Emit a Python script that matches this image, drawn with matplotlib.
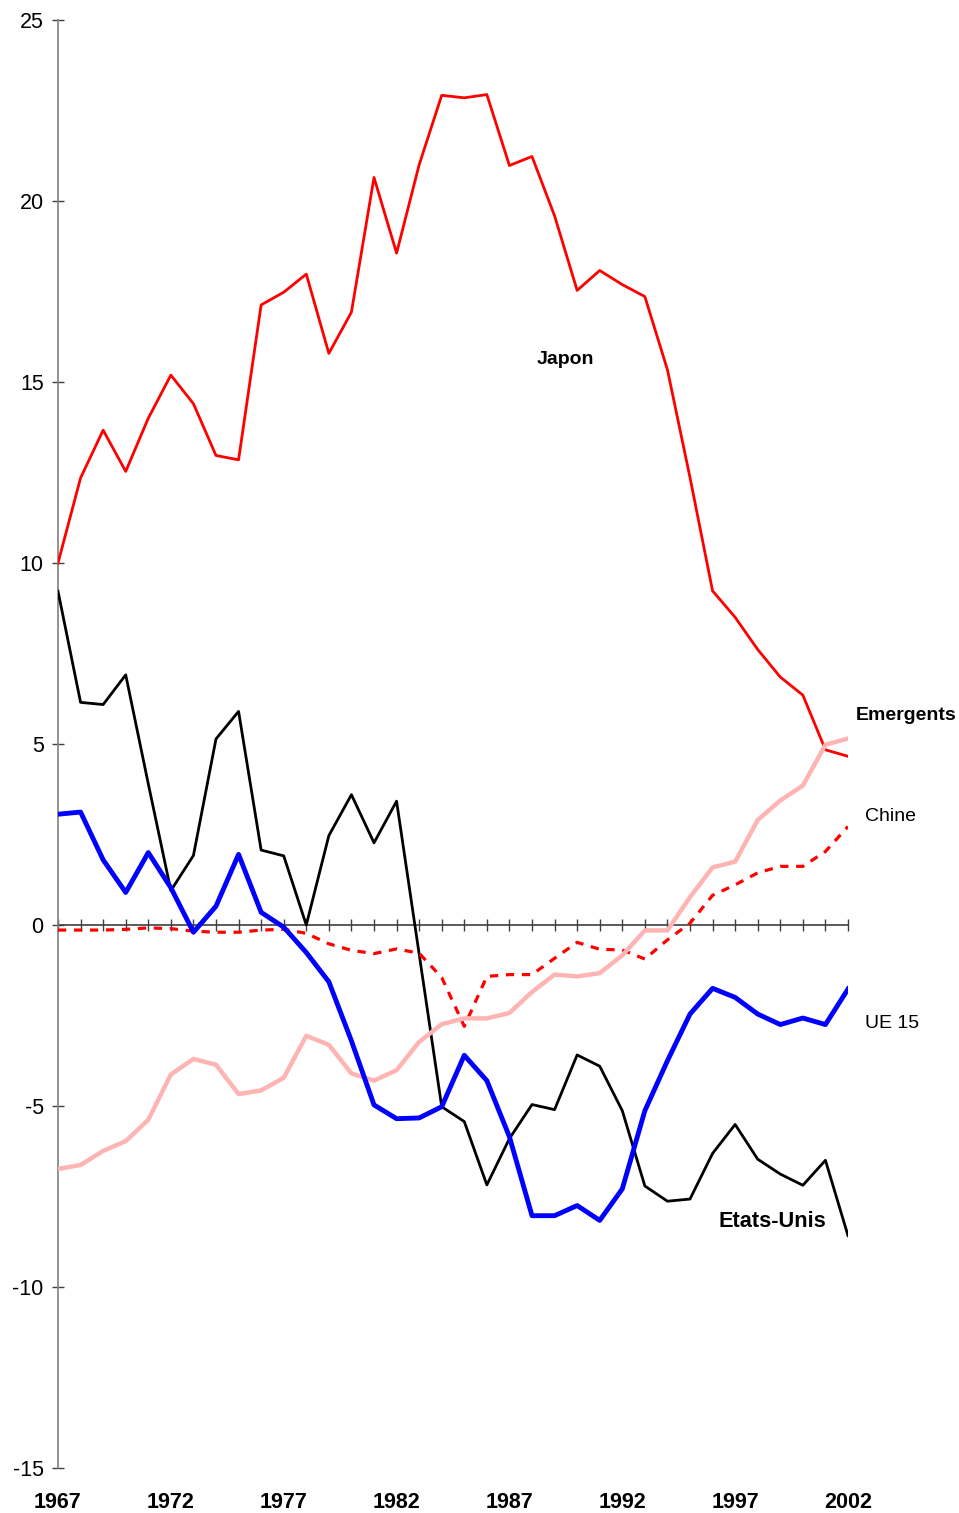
import numpy as np
import matplotlib
matplotlib.use("Agg")
import matplotlib.pyplot as plt
import matplotlib.transforms as mtransforms

plt.rcParams['font.family'] = ['Liberation Sans', 'DejaVu Sans']
plt.rcParams['axes.unicode_minus'] = False

years = list(range(1967, 2003))

japon = [10.0, 12.35, 13.67, 12.53, 14.0, 15.19, 14.4, 12.97, 12.85, 17.13,
         17.48, 17.98, 15.79, 16.93, 20.65, 18.56, 21.0, 22.92, 22.85, 22.94,
         20.98, 21.23, 19.59, 17.53, 18.08, 17.69, 17.36, 15.34, 12.36, 9.23,
         8.5, 7.61, 6.85, 6.35, 4.84, 4.66]

etats_unis = [9.22, 6.15, 6.09, 6.91, 3.9, 0.95, 1.92, 5.14, 5.9, 2.07,
              1.91, 0.0, 2.47, 3.6, 2.27, 3.42, -0.8, -5.02, -5.43, -7.18,
              -5.9, -4.96, -5.1, -3.59, -3.9, -5.13, -7.21, -7.63, -7.57, -6.31,
              -5.51, -6.47, -6.88, -7.19, -6.5, -8.58]

ue15 = [3.06, 3.12, 1.8, 0.9, 2.0, 1.03, -0.2, 0.52, 1.95, 0.35,
        -0.06, -0.76, -1.57, -3.2, -4.97, -5.35, -5.33, -5.02, -3.6, -4.3,
        -5.85, -8.03, -8.03, -7.75, -8.16, -7.29, -5.13, -3.75, -2.46, -1.75,
        -2.0, -2.46, -2.75, -2.57, -2.75, -1.77]

chine = [-0.14, -0.14, -0.14, -0.12, -0.08, -0.1, -0.17, -0.2, -0.2, -0.14,
         -0.12, -0.23, -0.52, -0.7, -0.79, -0.66, -0.78, -1.45, -2.8, -1.42,
         -1.37, -1.37, -0.92, -0.48, -0.67, -0.69, -0.94, -0.41, 0.05, 0.82,
         1.11, 1.44, 1.62, 1.62, 2.03, 2.72]

emergents = [-6.74, -6.63, -6.24, -5.97, -5.38, -4.13, -3.7, -3.86, -4.67, -4.57,
             -4.22, -3.06, -3.31, -4.1, -4.3, -4.01, -3.23, -2.74, -2.58, -2.58,
             -2.43, -1.85, -1.37, -1.42, -1.33, -0.84, -0.15, -0.15, 0.77, 1.59,
             1.75, 2.9, 3.44, 3.85, 4.98, 5.15]

xlabel_years = [1967, 1972, 1977, 1982, 1987, 1992, 1997, 2002]
ytick_values = [-15, -10, -5, 0, 5, 10, 15, 20, 25]

fig = plt.figure(figsize=(9.59, 15.13), dpi=100)
ax = fig.add_axes([58 / 959, 45 / 1513, 790 / 959, 1448 / 1513])

ax.plot(years, japon, color='#FF0000', lw=2.0, zorder=3)
ax.plot(years, etats_unis, color='black', lw=2.0, zorder=3)
ax.plot(years, chine, color='#FF0000', lw=2.3, dashes=(2.6, 2.4), zorder=4)
ax.plot(years, emergents, color='#FFB4B4', lw=3.2, zorder=4)
ax.plot(years, ue15, color='#0000FF', lw=3.5, zorder=5)

ax.set_xlim(1967, 2002)
ax.set_ylim(-15, 25)

for side in ['top', 'right']:
    ax.spines[side].set_visible(False)
ax.spines['left'].set_color('#808080')
ax.spines['left'].set_linewidth(1.2)
ax.spines['bottom'].set_position(('data', 0))
ax.spines['bottom'].set_color('#404040')
ax.spines['bottom'].set_linewidth(1.2)
ax.spines['bottom'].set_zorder(2)

ax.set_xticks(years)
ax.tick_params(axis='x', direction='inout', length=8.6, width=1.0,
               color='#404040', labelbottom=False)
ax.set_yticks(ytick_values)
ax.tick_params(axis='y', direction='inout', length=8.6, width=1.0,
               color='#404040', labelsize=15.5, pad=6)

trans = mtransforms.blended_transform_factory(ax.transData, ax.transAxes)
for yr in xlabel_years:
    ax.text(yr, -0.024, str(yr), transform=trans, ha='center', va='center',
            fontsize=15.5, fontweight='bold')

ax.text(1989.46, 15.62, 'Japon', ha='center', va='center', fontsize=14, fontweight='bold')
ax.text(2002.35, 5.8, 'Emergents', ha='left', va='center', fontsize=14, fontweight='bold')
ax.text(2002.75, 3.0, 'Chine', ha='left', va='center', fontsize=14)
ax.text(2002.75, -2.73, 'UE 15', ha='left', va='center', fontsize=14)
ax.text(1998.63, -8.2, 'Etats-Unis', ha='center', va='center', fontsize=15.7, fontweight='bold')

fig.savefig('out.png', dpi=100)
